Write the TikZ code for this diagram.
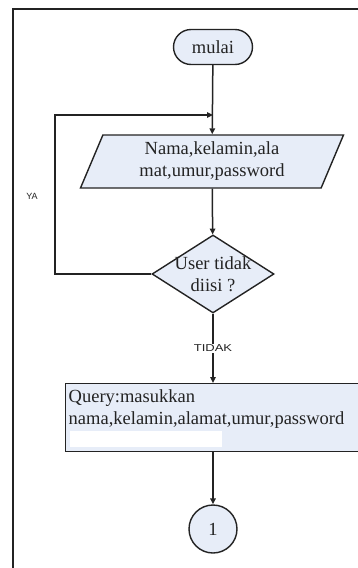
\documentclass[tikz,border=0pt]{standalone}
\usepackage{fontspec}
\setmainfont{Liberation Serif}
\newfontfamily\labelfont{Liberation Sans}
\usetikzlibrary{shapes.geometric,shapes.misc,arrows.meta}
\definecolor{boxfill}{RGB}{231,237,248}
\definecolor{ink}{RGB}{35,35,35}
\begin{document}
\begin{tikzpicture}[x=1pt,y=-1pt,
  every node/.style={font=\fontsize{18.5}{22}\selectfont, text=ink},
  shapebox/.style={draw=ink, line width=1.4pt, fill=boxfill},
  terminal/.style={shapebox, rounded rectangle, minimum width=79pt, minimum height=35pt, inner sep=0pt},
  iobox/.style={shapebox, trapezium, trapezium left angle=60, trapezium right angle=120,
    trapezium stretches body, minimum width=263pt, minimum height=53pt, inner sep=0pt, align=center},
  decision/.style={shapebox, diamond, minimum width=122pt, minimum height=78pt, inner sep=0pt},
  procbox/.style={shapebox, rectangle, anchor=north west, minimum height=68pt, text width=300pt,
    inner xsep=3pt, inner ysep=0pt, align=left},
  joint/.style={shapebox, circle, minimum size=48pt, inner sep=0pt},
  arr/.style={draw=ink, line width=1.5pt, -{Triangle[length=6pt,width=5.5pt]}},
  frameline/.style={draw=ink, line width=1.7pt},
  smalllabel/.style={font=\labelfont\fontsize{9}{10}\selectfont}]

\useasboundingbox (0,0) rectangle (358,568);
\clip (0,0) rectangle (358,568);

% page frame
\draw[frameline] (13,600) -- (13,9) -- (400,9);

% flowchart nodes
\node[terminal] (start) at (213,47) {mulai};
\node[iobox] (input) at (212,161.5) {Nama,kelamin,ala\\mat,umur,password};
\node[decision] (check) at (213,274) {};
\node[align=center, inner sep=0pt] (checktext) at (check) {User tidak\\diisi ?};
\node[procbox] (query) at (65,383) {Query:masukkan\\nama,kelamin,alamat,umur,password\\\mbox{}};
\node[joint] (conn) at (213,529) {1};

% masked last line of the query box
\fill[white] (70,431) rectangle (222,447);

% loop-back points
\coordinate (ybend) at (55,115);
\coordinate (join) at (start.south |- ybend);

% connectors
\draw[arr] (start) -- (input);
\draw[arr] (input) -- (check);
\draw[arr] (check.west) -| (ybend) -- (join);
\draw[arr] (check.south) -- (check.south |- query.north)
  node[pos=0.5, fill=white, inner xsep=1pt, inner ysep=1pt,
       font=\labelfont\fontsize{10}{11}\selectfont] (tidak) {\scalebox{1.3}[1]{TIDAK}};
\draw[arr] (conn.north |- query.south) -- (conn);

% branch label
\node[smalllabel] (ya) at (32,196) {YA};
\end{tikzpicture}
\end{document}
